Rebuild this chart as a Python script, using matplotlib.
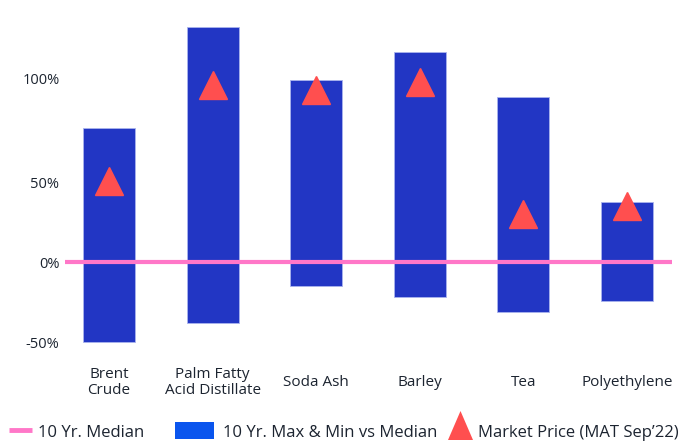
import matplotlib.pyplot as plt
from matplotlib.patches import Rectangle, Polygon
from matplotlib.lines import Line2D

# commodity ranges vs 10 yr median (%)
categories = ['Brent\nCrude', 'Palm Fatty\nAcid Distillate', 'Soda Ash', 'Barley', 'Tea', 'Polyethylene']
range_max = [84, 147, 114, 131.5, 103.5, 38]
range_min = [-50, -38, -15, -21.5, -31, -24]
market_price = [51, 111, 108, 113, 30, 35]

ytick_pos = [-50, 0, 50, 115]
ytick_labels = ['-50%', '0%', '50%', '100%']
legend_labels = ['10 Yr. Median', '10 Yr. Max & Min vs Median', 'Market Price (MAT Sep\u201922)']

plt.rcParams['font.family'] = ['Open Sans', 'DejaVu Sans']
W, H = 683, 444
txt_color = '#1c2430'

fig = plt.figure(figsize=(W / 100, H / 100), dpi=100)
ax = fig.add_axes([65 / W, 94 / H, 607 / W, 345 / H])

x = list(range(len(categories)))
heights = [hi - lo for hi, lo in zip(range_max, range_min)]
ax.bar(x, heights, bottom=range_min, width=0.5, color='#2236c4',
       edgecolor='#aab4ee', linewidth=0.6, zorder=2)
ax.axhline(0, color='#ff77c8', lw=3, zorder=3)
ax.plot(x, market_price, linestyle='none', marker='^', markersize=20,
        color='#ff4f4f', zorder=4)

ax.set_xlim(-0.425, 5.435)
ax.set_ylim(-54.7, 160.9)
ax.set_xticks(x)
ax.set_xticklabels(categories, fontsize=11, color=txt_color, linespacing=1.15)
for lab in ax.get_xticklabels():
    lab.set_va('center')
ax.set_yticks(ytick_pos)
ax.set_yticklabels(ytick_labels, fontsize=10.5, color=txt_color)
ax.tick_params(axis='x', length=0, pad=23.5)
ax.tick_params(axis='y', length=0, pad=4)
for s in ax.spines.values():
    s.set_visible(False)


# legend drawn by hand (pixel positions -> figure fractions)
def fx(px):
    return px / W


def fy(py):
    return 1 - py / H


fig.add_artist(Line2D([fx(9), fx(32)], [fy(430), fy(430)], color='#ff77c8', lw=3.5,
                      solid_capstyle='butt'))
fig.add_artist(Rectangle((fx(175), fy(439)), fx(214) - fx(175), fy(422) - fy(439),
                         facecolor='#0a55ee', edgecolor='none'))
fig.add_artist(Polygon([(fx(448), fy(440)), (fx(473), fy(440)), (fx(460.5), fy(411))],
                       closed=True, facecolor='#ff4f4f', edgecolor='none'))
for px, lab in zip([38, 223, 478], legend_labels):
    fig.text(fx(px), fy(433), lab, fontsize=12, color=txt_color, va='center', ha='left')

fig.savefig('out.png', dpi=100)
